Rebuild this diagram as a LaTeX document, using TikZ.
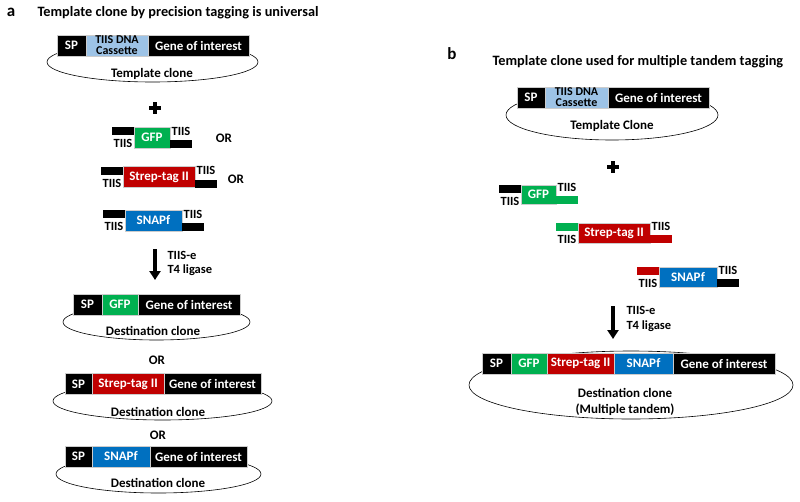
\documentclass[tikz,border=0pt]{standalone}
\usepackage{fontspec}
\setmainfont{Carlito}
\usepackage{tikz}
\usetikzlibrary{arrows.meta}
\definecolor{gfpgreen}{RGB}{0,176,80}
\definecolor{strepred}{RGB}{192,0,0}
\definecolor{snapblue}{RGB}{0,112,192}
\definecolor{cassblue}{RGB}{157,195,230}
\begin{document}
\begin{tikzpicture}[x=1pt, y=-1pt, font=\bfseries\fontsize{13}{14}\selectfont,
	seg/.style={draw=gray!40, line width=0.4pt, minimum height=21, inner sep=0pt, outer sep=0pt, anchor=west, text=white},
	cass/.style={seg, fill=cassblue, text=black, align=center, font=\bfseries\fontsize{12}{11}\selectfont},
	bar/.style={minimum width=22, minimum height=8, inner sep=0pt, outer sep=0pt},
	tiis/.style={font=\bfseries\fontsize{12.5}{13}\selectfont, inner xsep=0pt, inner ysep=4.5pt},
	ring/.style={draw, line width=0.6pt},
	step arrow/.style={line width=4pt, -{Triangle[width=11pt, length=9pt]}},
	plus/.style={line width=3.5pt}]
		\useasboundingbox (0,0) rectangle (800,501);
		% panel a
		\node[font=\bfseries\fontsize{17}{17}\selectfont] (a) at (11,12) {a};
		\node[anchor=west, font=\bfseries\fontsize{14.3}{15}\selectfont] (atitle) at (34,13) {Template clone by precision tagging is universal};
		\draw[ring] (152.5,62) ellipse [x radius=105.5, y radius=20];
		\node[seg, fill=black, minimum width=29] (tsp) at (57,45.5) {SP};
		\node[cass, minimum width=62] (tcas) at (tsp.east) {TIIS DNA\\Cassette};
		\node[seg, fill=black, minimum width=101] (tgoi) at (tcas.east) {Gene of interest};
		\node (tlbl) at (152,74) {Template clone};
		\coordinate (plusa) at (155,108);
		\draw[plus] (plusa) +(-6,0) -- +(6,0) (plusa) +(0,-6) -- +(0,6);
		\node[seg, fill=gfpgreen, minimum width=36] (fgfp) at (134,137.5) {GFP};
		\node[bar, fill=black, anchor=north east] (fgfpl) at (fgfp.north west) {};
		\node[bar, fill=black, anchor=south west] (fgfpr) at (fgfp.south east) {};
		\node[tiis, anchor=north] (fgfplt) at (fgfpl.south) {TIIS};
		\node[tiis, anchor=south] (fgfprt) at (fgfpr.north) {TIIS};
		\node (or1) at (224,138) {OR};
		\node[seg, fill=strepred, minimum width=72] (fstr) at (123,177) {Strep-tag II};
		\node[bar, fill=black, anchor=north east] (fstrl) at (fstr.north west) {};
		\node[bar, fill=black, anchor=south west] (fstrr) at (fstr.south east) {};
		\node[tiis, anchor=north] (fstrlt) at (fstrl.south) {TIIS};
		\node[tiis, anchor=south] (fstrrt) at (fstrr.north) {TIIS};
		\node (or2) at (236,179) {OR};
		\node[seg, fill=snapblue, minimum width=57] (fsnp) at (125,220.5) {SNAPf};
		\node[bar, fill=black, anchor=north east] (fsnpl) at (fsnp.north west) {};
		\node[bar, fill=black, anchor=south west] (fsnpr) at (fsnp.south east) {};
		\node[tiis, anchor=north] (fsnplt) at (fsnpl.south) {TIIS};
		\node[tiis, anchor=south] (fsnprt) at (fsnpr.north) {TIIS};
		\coordinate (arra1) at (155,249);
		\coordinate (arra2) at (155,280);
		\draw[step arrow] (arra1) -- (arra2);
		\node[anchor=west, align=left, font=\bfseries\fontsize{12.5}{14}\selectfont] (enza) at (164,263) {TIIS-e\\T4 ligase};
		\draw[ring] (156.5,322) ellipse [x radius=93.5, y radius=18];
		\node[seg, fill=black, minimum width=29] (d1sp) at (73,304.5) {SP};
		\node[seg, fill=gfpgreen, minimum width=36] (d1gfp) at (d1sp.east) {GFP};
		\node[seg, fill=black, minimum width=102] (d1goi) at (d1gfp.east) {Gene of interest};
		\node (d1lbl) at (153,331) {Destination clone};
		\node (or3) at (157,360) {OR};
		\draw[ring] (162.5,401) ellipse [x radius=109.5, y radius=19];
		\node[seg, fill=black, minimum width=27] (d2sp) at (65,384) {SP};
		\node[seg, fill=strepred, minimum width=72] (d2str) at (d2sp.east) {Strep-tag II};
		\node[seg, fill=black, minimum width=97] (d2goi) at (d2str.east) {Gene of interest};
		\node (d2lbl) at (158,412) {Destination clone};
		\node (or4) at (158,435) {OR};
		\draw[ring] (158.5,474) ellipse [x radius=102.5, y radius=19];
		\node[seg, fill=black, minimum width=27] (d3sp) at (65,456.5) {SP};
		\node[seg, fill=snapblue, minimum width=58] (d3snp) at (d3sp.east) {SNAPf};
		\node[seg, fill=black, minimum width=97] (d3goi) at (d3snp.east) {Gene of interest};
		\node (d3lbl) at (158,483) {Destination clone};
		% panel b
		\node[font=\bfseries\fontsize{17}{17}\selectfont] (b) at (452,54) {b};
		\node[anchor=west, font=\bfseries\fontsize{14.3}{15}\selectfont] (btitle) at (489,62) {Template clone used for multiple tandem tagging};
		\draw[ring] (612,115) ellipse [x radius=106, y radius=25];
		\node[seg, fill=black, minimum width=28] (usp) at (517,97.5) {SP};
		\node[cass, minimum width=63] (ucas) at (usp.east) {TIIS DNA\\Cassette};
		\node[seg, fill=black, minimum width=101] (ugoi) at (ucas.east) {Gene of interest};
		\node (ulbl) at (612,126) {Template Clone};
		\coordinate (plusb) at (613,167);
		\draw[plus] (plusb) +(-6,0) -- +(6,0) (plusb) +(0,-6) -- +(0,6);
		\node[seg, fill=gfpgreen, minimum width=35, minimum height=19] (ggfp) at (521,194.5) {GFP};
		\node[bar, fill=black, anchor=north east] (ggfpl) at (ggfp.north west) {};
		\node[bar, fill=gfpgreen, anchor=south west] (ggfpr) at (ggfp.south east) {};
		\node[tiis, anchor=north] (ggfplt) at (ggfpl.south) {TIIS};
		\node[tiis, anchor=south] (ggfprt) at (ggfpr.north) {TIIS};
		\node[seg, fill=strepred, minimum width=72, minimum height=20] (gstr) at (578,233) {Strep-tag II};
		\node[bar, fill=gfpgreen, anchor=north east] (gstrl) at (gstr.north west) {};
		\node[bar, fill=strepred, anchor=south west] (gstrr) at (gstr.south east) {};
		\node[tiis, anchor=north] (gstrlt) at (gstrl.south) {TIIS};
		\node[tiis, anchor=south] (gstrrt) at (gstrr.north) {TIIS};
		\node[seg, fill=snapblue, minimum width=58, minimum height=20] (gsnp) at (659,277) {SNAPf};
		\node[bar, fill=strepred, anchor=north east] (gsnpl) at (gsnp.north west) {};
		\node[bar, fill=black, anchor=south west] (gsnpr) at (gsnp.south east) {};
		\node[tiis, anchor=north] (gsnplt) at (gsnpl.south) {TIIS};
		\node[tiis, anchor=south] (gsnprt) at (gsnpr.north) {TIIS};
		\coordinate (arrb1) at (613,306);
		\coordinate (arrb2) at (613,339);
		\draw[step arrow] (arrb1) -- (arrb2);
		\node[anchor=west, align=left, font=\bfseries\fontsize{12.5}{15}\selectfont] (enzb) at (623,319) {TIIS-e\\T4 ligase};
		\draw[ring] (631,385) ellipse [x radius=162, y radius=34];
		\node[seg, fill=black, minimum width=29] (msp) at (482,363.5) {SP};
		\node[seg, fill=gfpgreen, minimum width=36] (mgfp) at (msp.east) {GFP};
		\node[seg, fill=strepred, minimum width=67] (mstr) at (mgfp.east) {Strep-tag II};
		\node[seg, fill=snapblue, minimum width=59] (msnp) at (mstr.east) {SNAPf};
		\node[seg, fill=black, minimum width=102] (mgoi) at (msnp.east) {Gene of interest};
		\node[align=center, font=\bfseries\fontsize{13}{16}\selectfont] (mlbl) at (625,402) {Destination clone\\(Multiple tandem)};
\end{tikzpicture}
\end{document}
